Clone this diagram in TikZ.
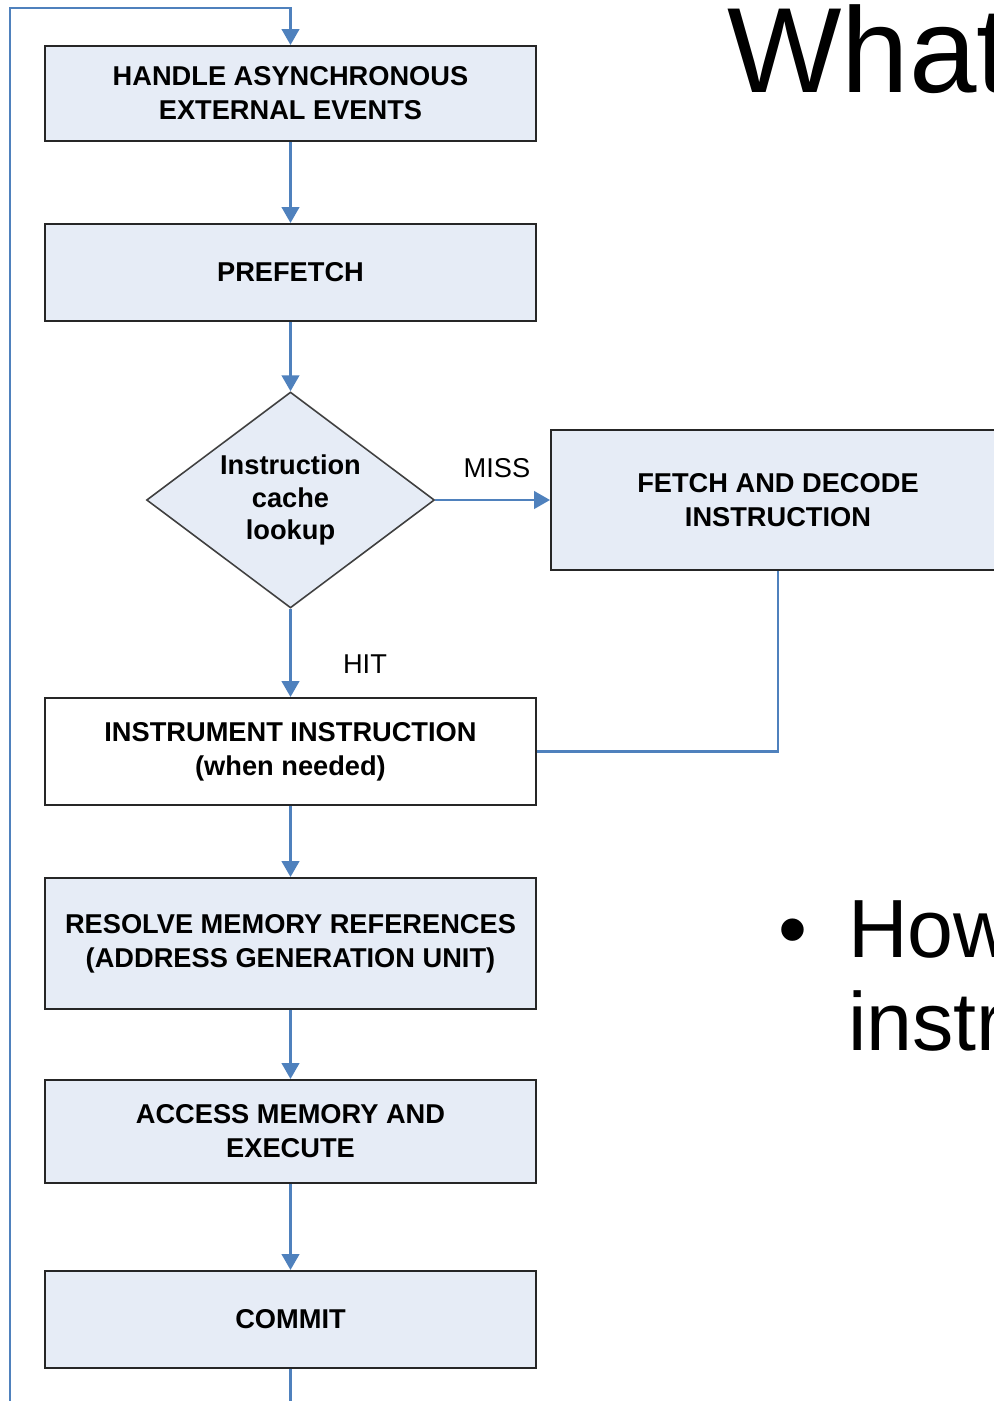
\documentclass[tikz,border=0pt]{standalone}
\usepackage{fontspec}
\setmainfont{Liberation Sans}
\usetikzlibrary{shapes.geometric,arrows.meta}

\definecolor{blockfill}{RGB}{230,236,246}
\definecolor{flowblue}{RGB}{79,129,189}

\tikzset{
    block/.style={draw=black!85, line width=1.2pt, fill=blockfill, align=center,
        minimum width=9.82cm, font=\fontsize{15.5}{19.3}\selectfont\bfseries},
    decision/.style={diamond, aspect=1.33, draw=black!75, line width=0.9pt, fill=blockfill, align=center,
        minimum width=5.76cm, minimum height=4.32cm, inner sep=0pt,
        font=\fontsize{15.5}{18.5}\selectfont\bfseries},
    flow/.style={draw=flowblue, line width=1.2pt, -{Triangle[length=9pt,width=10pt]}},
    link/.style={draw=flowblue, line width=1.2pt},
    edgelabel/.style={font=\fontsize{15.5}{18}\selectfont}
}

\begin{document}
\begin{tikzpicture}[x=0.02cm, y=-0.02cm]
        \useasboundingbox (0,0) rectangle (994,1401);
        \clip (0,0) rectangle (994,1401);

        % Flujo principal
        \node[block, minimum height=1.9cm] (handle) at (290.5,93.5) {HANDLE ASYNCHRONOUS\\EXTERNAL EVENTS};
        \node[block, minimum height=1.94cm] (prefetch) at (290.5,272.5) {PREFETCH};
        \node[decision] (lookup) at (290.5,500) {Instruction\\cache\\lookup};
        \node[block, minimum height=2.14cm, fill=white] (instr) at (290.5,751.5) {INSTRUMENT INSTRUCTION\\(when needed)};
        \node[block, minimum height=2.62cm] (resolve) at (290.5,943.5) {RESOLVE MEMORY REFERENCES\\(ADDRESS GENERATION UNIT)};
        \node[block, minimum height=2.06cm] (access) at (290.5,1131.5) {ACCESS MEMORY AND\\EXECUTE};
        \node[block, minimum height=1.94cm] (commit) at (290.5,1319.5) {COMMIT};

        % Rama MISS
        \node[block, minimum width=9.08cm, minimum height=2.8cm] (fetch) at (778,500) {FETCH AND DECODE\\INSTRUCTION};

        \foreach \a/\b in {handle/prefetch, prefetch/lookup, lookup/instr, instr/resolve, resolve/access, access/commit} {
            \draw[flow] (\a) -- (\b);
        }
        \draw[flow] (lookup.east) -- (fetch.west);
        \draw[link] (fetch.south) |- (instr.east);
        \node[edgelabel] (miss) at (497,468) {MISS};
        \node[edgelabel] (hit) at (365,664) {HIT};

        % Vuelta al inicio
        \coordinate (loopbot) at (10,1440);
        \coordinate (looptop) at (10,8);
        \draw[flow] (commit.south) |- (loopbot) -- (looptop) -| (handle.north);

        % Texto de la diapositiva
        \node[anchor=base west, inner sep=0pt, font=\fontsize{69}{80}\selectfont] (title) at (727,92) {What};
        \node[anchor=base west, inner sep=0pt, font=\fontsize{47}{53}\selectfont] (bullet) at (778,957) {•};
        \node[anchor=base west, inner sep=0pt, font=\fontsize{47}{53}\selectfont] (how) at (848,957) {How};
        \node[anchor=base west, inner sep=0pt, font=\fontsize{47}{53}\selectfont] (instrtxt) at (848,1050) {instr};
    \end{tikzpicture}
\end{document}
